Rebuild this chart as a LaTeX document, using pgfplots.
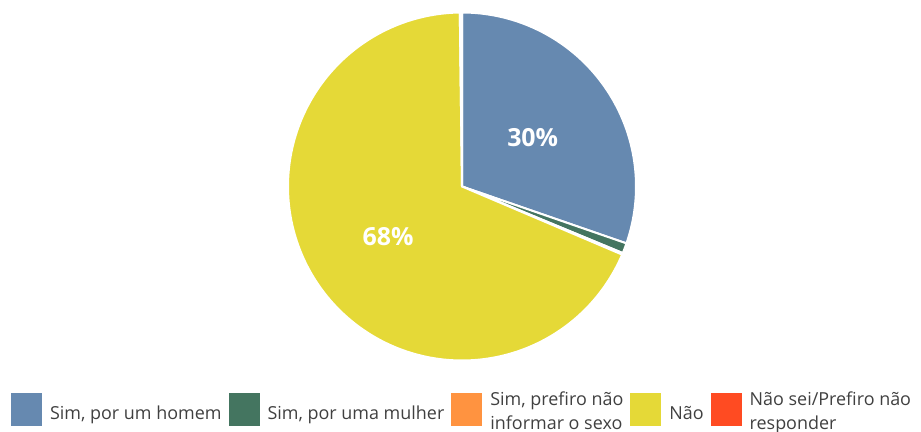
\documentclass[border=0pt]{standalone}
\usepackage{fontspec}
\setmainfont{Open Sans}
\usepackage{pgfplots}
\pgfplotsset{compat=1.18}
\definecolor{cblue}{HTML}{6689B0}
\definecolor{cgreen}{HTML}{447560}
\definecolor{corange}{HTML}{FF9340}
\definecolor{cyellow}{HTML}{E5D937}
\definecolor{cred}{HTML}{FF4B22}
\definecolor{ctext}{HTML}{404040}
\newcommand\lent[1]{$\vcenter to 62bp{\vfil\hbox{\begin{tabular}{@{}l@{}}#1\end{tabular}}\vfil\vskip 14bp}$}
\newcommand\lentt[1]{$\vcenter to 70bp{\vfil\hbox{\begin{tabular}{@{}l@{}}#1\end{tabular}}\vfil\vskip 22bp}$}
\begin{document}
\begin{tikzpicture}
% shares in percent
\def\vA{30.3}\def\vB{0.95}\def\vC{0.15}\def\vD{68.4}\def\vE{0.2}
\pgfmathsetmacro\aA{90}
\pgfmathsetmacro\aB{\aA-3.6*\vA}
\pgfmathsetmacro\aC{\aB-3.6*\vB}
\pgfmathsetmacro\aD{\aC-3.6*\vC}
\pgfmathsetmacro\aE{\aD-3.6*\vD}
\pgfmathsetmacro\aF{\aE-3.6*\vE}
\begin{axis}[name=ax,
  scale only axis, width=921bp, height=432bp,
  xmin=0, xmax=921, ymin=0, ymax=432,
  hide axis, clip=false,
  legend columns=5,
  legend style={at={(axis cs:9,22.5)}, anchor=west, draw=none, fill=none,
    inner sep=0pt, outer sep=0pt, column sep=6bp,
    /tikz/every even column/.append style={column sep=5bp},
    font=\fontsize{18}{24}\selectfont, text=ctext,
    nodes={inner sep=0pt, anchor=west}},
  legend image code/.code={\fill[#1] (0bp,-17.5bp) rectangle (33bp,17.5bp);},
]
\addplot[fill=cblue, draw=white, line width=2bp, domain=\aB:\aA, samples=90]
  ({462+174*cos(x)},{245.5+174*sin(x)}) -- (axis cs:462,245.5) -- cycle;
\addlegendentry{\lent{Sim, por um homem}}
\addplot[fill=cgreen, draw=white, line width=2bp, domain=\aC:\aB, samples=10]
  ({462+174*cos(x)},{245.5+174*sin(x)}) -- (axis cs:462,245.5) -- cycle;
\addlegendentry{\lent{Sim, por uma mulher}}
\addplot[fill=corange, draw=white, line width=2bp, domain=\aD:\aC, samples=5]
  ({462+174*cos(x)},{245.5+174*sin(x)}) -- (axis cs:462,245.5) -- cycle;
\addlegendentry{\lentt{Sim, prefiro não\\informar o sexo}}
\addplot[fill=cyellow, draw=white, line width=2bp, domain=\aE:\aD, samples=200]
  ({462+174*cos(x)},{245.5+174*sin(x)}) -- (axis cs:462,245.5) -- cycle;
\addlegendentry{\lent{Não}}
\addplot[fill=cred, draw=white, line width=2bp, domain=\aF:\aE, samples=5]
  ({462+174*cos(x)},{245.5+174*sin(x)}) -- (axis cs:462,245.5) -- cycle;
\addlegendentry{\lentt{Não sei/Prefiro não\\responder}}
\node[text=white, font=\bfseries\fontsize{25}{30}\selectfont] at (axis cs:532.7,294) {30\%};
\node[text=white, font=\bfseries\fontsize{25}{30}\selectfont] at (axis cs:388,195.3) {68\%};
\end{axis}
\pgfresetboundingbox
\path[use as bounding box] (ax.south west) rectangle (ax.north east);
\end{tikzpicture}
\end{document}
